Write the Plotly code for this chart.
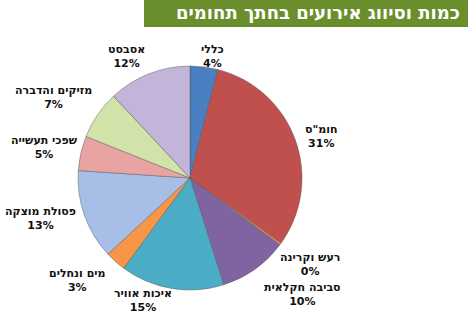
import plotly.graph_objects as go

W, H = 468, 315

title_text = "כמות וסיווג אירועים בחתך תחומים"
categories = ['כללי', 'חומ"ס', 'רעש וקרינה', 'סביבה חקלאית', 'איכות אוויר',
              'מים ונחלים', 'פסולת מוצקה', 'שפכי תעשייה', 'מזיקים והדברה', 'אסבסט']
values = [4, 31, 0.25, 10, 15, 3, 13, 5, 7, 12]
pct_labels = ['4%', '31%', '0%', '10%', '15%', '3%', '13%', '5%', '7%', '12%']

colors = ['#4a7fc2', '#c0504d', '#f79646', '#8064a2', '#4bacc6',
          '#f79646', '#a7bee6', '#e8a4a3', '#d1e3a9', '#c3b5da']

# label anchor positions in pixels (layout, not data)
label_px = [(212, 56), (321, 136), (310, 264), (302, 294), (143, 300),
            (77, 280), (40, 218), (44, 147), (53, 97), (127, 56)]

cx, cy, r = 190, 178, 112

fig = go.Figure(go.Pie(
    labels=categories,
    values=values,
    sort=False,
    direction='clockwise',
    rotation=0,
    textinfo='none',
    hoverinfo='none',
    marker=dict(colors=colors, line=dict(color='rgba(80,80,80,0.55)', width=0.8)),
    domain=dict(x=[(cx - r) / W, (cx + r) / W], y=[(H - cy - r) / H, (H - cy + r) / H]),
    showlegend=False,
))

annotations = []
for cat, pct, (px, py) in zip(categories, pct_labels, label_px):
    annotations.append(dict(
        x=px / W, y=1 - py / H, xref='paper', yref='paper',
        text=f"<b>{cat}</b><br><b>{pct}</b>", showarrow=False,
        align='center', xanchor='center', yanchor='middle',
        font=dict(family='DejaVu Sans', size=11, color='#111111'),
    ))

annotations.append(dict(
    x=1 - 6 / W, y=1 - 13 / H, xref='paper', yref='paper',
    text=f"<b>{title_text}</b>", showarrow=False,
    xanchor='right', yanchor='middle',
    font=dict(family='DejaVu Sans', size=18, color='white'),
))

fig.update_layout(
    width=W, height=H,
    margin=dict(l=0, r=0, t=0, b=0),
    paper_bgcolor='white', plot_bgcolor='white',
    annotations=annotations,
    shapes=[dict(type='rect', xref='paper', yref='paper',
                 x0=144 / W, x1=1, y0=1 - 27 / H, y1=1,
                 fillcolor='#6b8e2c', line=dict(width=0), layer='below')],
)

fig.write_html("out.html")
